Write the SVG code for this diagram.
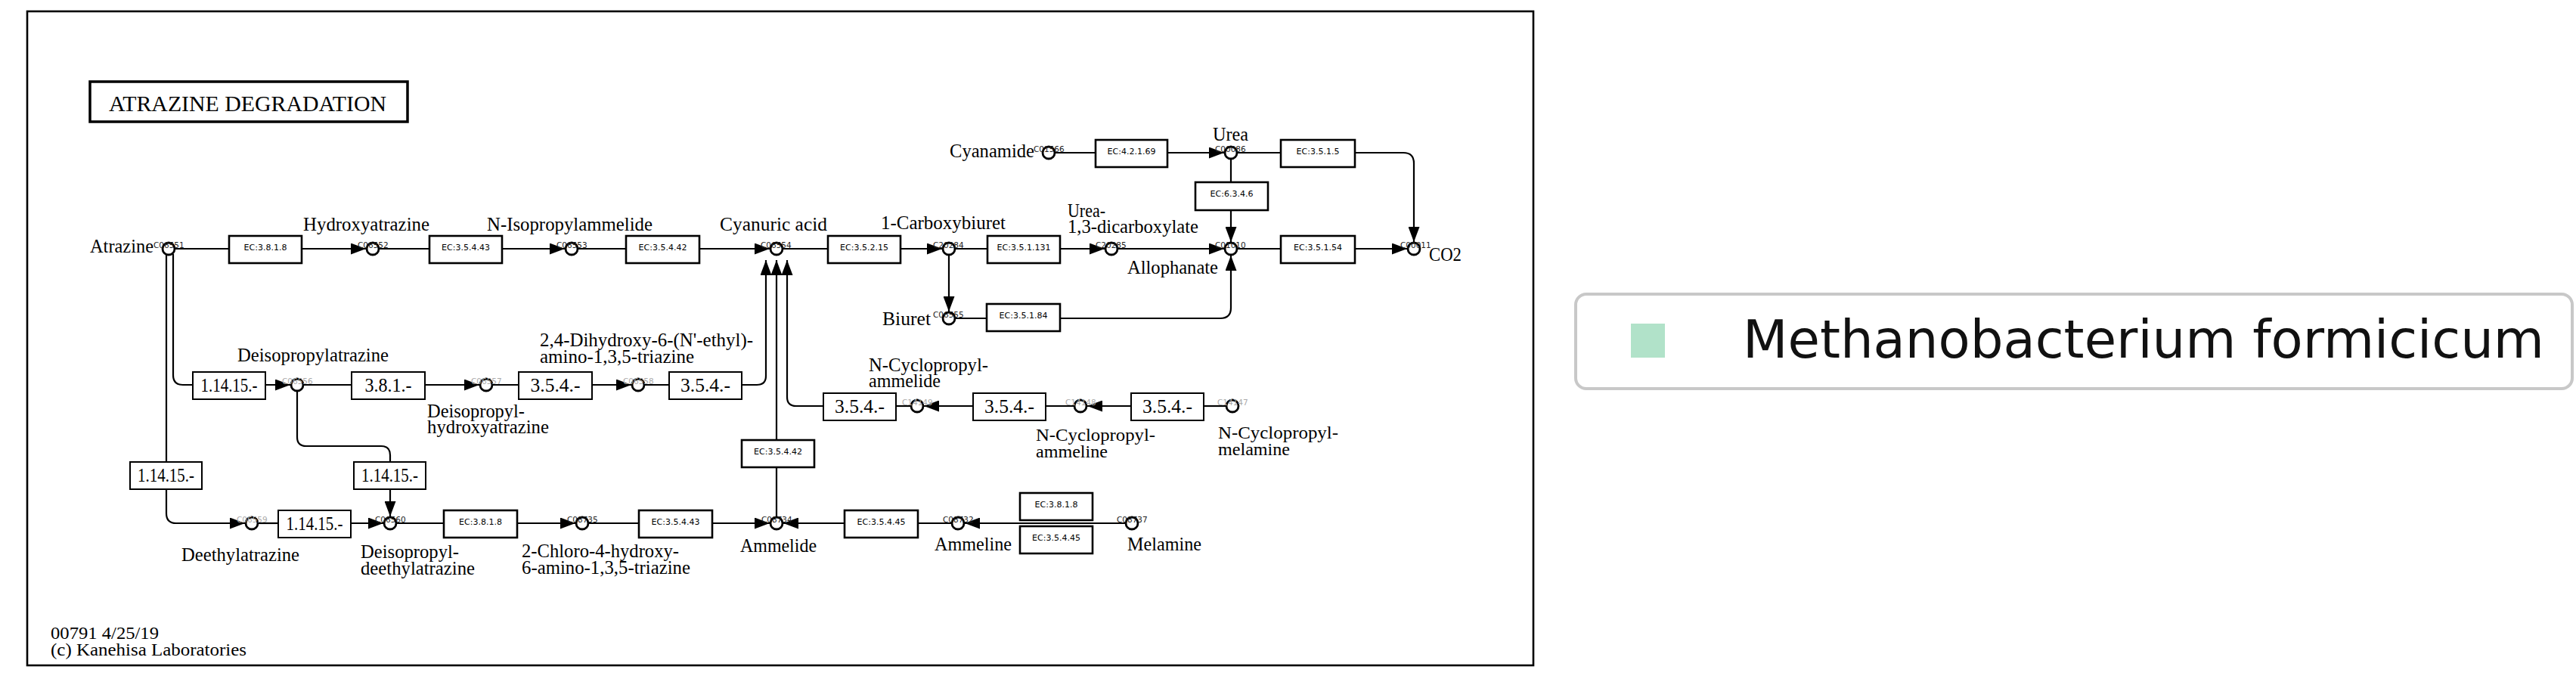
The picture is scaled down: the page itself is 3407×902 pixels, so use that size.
<svg xmlns="http://www.w3.org/2000/svg" width="3407" height="902" viewBox="0 0 3407 902">
<style>
.c{fill:none;stroke:#000;stroke-width:2.2}
.a{marker-end:url(#ah)}
.cp{fill:#fff;stroke:#000;stroke-width:2.8}
.ec{fill:#fff;stroke:#000;stroke-width:2.6}
.nb{fill:#fff;stroke:#000;stroke-width:2}
.et{font-family:"DejaVu Sans",sans-serif;font-size:11px;fill:#000;text-anchor:middle}
.nt{font-family:"Liberation Serif",serif;font-size:25px;fill:#000;text-anchor:middle}
.n{font-family:"Liberation Serif",serif;font-size:25px;fill:#000}
.n2{font-family:"Liberation Serif",serif;font-size:23px;fill:#000}
.id{font-family:"DejaVu Sans",sans-serif;font-size:10.5px;fill:#222}
.ig{font-family:"DejaVu Sans",sans-serif;font-size:10.5px;fill:#aaa}
</style>
<defs>
<marker id="ah" viewBox="0 0 20 15" refX="20" refY="7.5" markerWidth="20" markerHeight="15" markerUnits="userSpaceOnUse" orient="auto"><path d="M0,0 L20,7.5 L0,15 z" fill="#000"/></marker>
</defs>
<rect width="3407" height="902" fill="#fff"/>
<rect x="36" y="15" width="1992" height="865" fill="#fff" stroke="#000" stroke-width="2.6"/>
<g id="title">
<rect x="119" y="108" width="420" height="53" fill="#fff" stroke="#000" stroke-width="3.5"/>
<text x="144" y="147" font-family="Liberation Serif,serif" font-size="30" textLength="367" lengthAdjust="spacingAndGlyphs">ATRAZINE DEGRADATION</text>
</g>
<g id="connectors">
<path class="c" d="M231,329 H303"/>
<path class="c a" d="M399,329 H484"/>
<path class="c" d="M501,329 H568"/>
<path class="c a" d="M664,329 H747"/>
<path class="c" d="M764,329 H828"/>
<path class="c a" d="M925,329 H1018"/>
<path class="c" d="M1035,329 H1095"/>
<path class="c a" d="M1191,329 H1246"/>
<path class="c" d="M1263,329 H1306"/>
<path class="c a" d="M1402,329 H1461"/>
<path class="c a" d="M1478,329 H1619"/>
<path class="c" d="M1636,329 H1694"/>
<path class="c a" d="M1792,329 H1861"/>
<path class="c" d="M1395,202 H1449"/>
<path class="c a" d="M1544,202 H1619"/>
<path class="c" d="M1636,202 H1694"/>
<path class="c a" d="M1792,202 H1856 Q1870,202 1870,216 V320"/>
<path class="c" d="M1628,210 V241"/>
<path class="c a" d="M1628,278 V320"/>
<path class="c a" d="M1255,337 V412"/>
<path class="c" d="M1263,421 H1305"/>
<path class="c a" d="M1402,421 H1614 Q1628,421 1628,407 V338"/>
<path class="c" d="M229,336 V496 Q229,509 242,509 H255"/>
<path class="c" d="M220,336 V611"/>
<path class="c a" d="M220,647 V679 Q220,692 233,692 H324"/>
<path class="c a" d="M351,509 H384"/>
<path class="c" d="M401,509 H465"/>
<path class="c a" d="M562,509 H634"/>
<path class="c" d="M651,509 H686"/>
<path class="c a" d="M783,509 H835"/>
<path class="c" d="M852,509 H885"/>
<path class="c a" d="M981,509 H1001 Q1013,509 1013,497 V344"/>
<path class="c" d="M393,517 V578 Q393,590 405,590 H504 Q516,590 516,602 V611"/>
<path class="c a" d="M516,647 V683"/>
<path class="c a" d="M1089,537 H1053 Q1041,537 1041,525 V344"/>
<path class="c" d="M1185,537 H1205"/>
<path class="c a" d="M1287,537 H1222"/>
<path class="c" d="M1383,537 H1421"/>
<path class="c a" d="M1496,537 H1438"/>
<path class="c" d="M1592,537 H1622"/>
<path class="c" d="M1027,684 V618"/>
<path class="c a" d="M1027,582 V344"/>
<path class="c" d="M341,692 H368"/>
<path class="c a" d="M464,692 H507"/>
<path class="c" d="M524,692 H587"/>
<path class="c a" d="M684,692 H761"/>
<path class="c" d="M778,692 H845"/>
<path class="c a" d="M942,692 H1018"/>
<path class="c a" d="M1117,692 H1036"/>
<path class="c" d="M1259,692 H1214"/>
<path class="c a" d="M1489,692 H1276"/>
</g>
<g id="C06551"><circle class="cp" cx="223" cy="329" r="8"/><text class="id" x="203" y="328">C06551</text><text class="n" x="119" y="334" textLength="84" lengthAdjust="spacingAndGlyphs">Atrazine</text></g>
<g id="C06552"><circle class="cp" cx="493" cy="329" r="8"/><text class="id" x="473" y="328">C06552</text><text class="n" x="401" y="305" textLength="167" lengthAdjust="spacingAndGlyphs">Hydroxyatrazine</text></g>
<g id="C06553"><circle class="cp" cx="756" cy="329" r="8"/><text class="id" x="736" y="328">C06553</text><text class="n" x="644" y="305" textLength="219" lengthAdjust="spacingAndGlyphs">N-Isopropylammelide</text></g>
<g id="C06554"><circle class="cp" cx="1027" cy="329" r="8"/><text class="id" x="1006" y="328">C06554</text><text class="n" x="952" y="305" textLength="142" lengthAdjust="spacingAndGlyphs">Cyanuric acid</text></g>
<g id="C20284"><circle class="cp" cx="1255" cy="329" r="8"/><text class="id" x="1234" y="328">C20284</text><text class="n" x="1165" y="303" textLength="165" lengthAdjust="spacingAndGlyphs">1-Carboxybiuret</text></g>
<g id="C20285"><circle class="cp" cx="1470" cy="329" r="8"/><text class="id" x="1449" y="328">C20285</text><text class="n" x="1412" y="287" textLength="50" lengthAdjust="spacingAndGlyphs">Urea-</text><text class="n" x="1412" y="308" textLength="173" lengthAdjust="spacingAndGlyphs">1,3-dicarboxylate</text></g>
<g id="C01010"><circle class="cp" cx="1628" cy="329" r="8"/><text class="id" x="1607" y="328">C01010</text><text class="n" x="1491" y="362" textLength="120" lengthAdjust="spacingAndGlyphs">Allophanate</text></g>
<g id="C00011"><circle class="cp" cx="1870" cy="329" r="8"/><text class="id" x="1852" y="328">C00011</text><text class="n" x="1890" y="345" textLength="43" lengthAdjust="spacingAndGlyphs">CO2</text></g>
<g id="C01566"><circle class="cp" cx="1387" cy="202" r="8"/><text class="id" x="1367" y="201">C01566</text><text class="n" x="1256" y="208" textLength="112" lengthAdjust="spacingAndGlyphs">Cyanamide</text></g>
<g id="C00086"><circle class="cp" cx="1628" cy="202" r="8"/><text class="id" x="1607" y="201">C00086</text><text class="n" x="1604" y="186" textLength="47" lengthAdjust="spacingAndGlyphs">Urea</text></g>
<g id="C06555"><circle class="cp" cx="1255" cy="421" r="8"/><text class="id" x="1234" y="420">C06555</text><text class="n" x="1167" y="430" textLength="64" lengthAdjust="spacingAndGlyphs">Biuret</text></g>
<g id="C06556"><circle class="cp" cx="393" cy="509" r="8"/><text class="ig" x="373" y="508">C06556</text><text class="n" x="314" y="478" textLength="200" lengthAdjust="spacingAndGlyphs">Deisopropylatrazine</text></g>
<g id="C06557"><circle class="cp" cx="643" cy="509" r="8"/><text class="ig" x="623" y="508">C06557</text><text class="n" x="565" y="552" textLength="129" lengthAdjust="spacingAndGlyphs">Deisopropyl-</text><text class="n" x="565" y="573" textLength="161" lengthAdjust="spacingAndGlyphs">hydroxyatrazine</text></g>
<g id="C06558"><circle class="cp" cx="844" cy="509" r="8"/><text class="ig" x="824" y="508">C06558</text><text class="n" x="714" y="458" textLength="282" lengthAdjust="spacingAndGlyphs">2,4-Dihydroxy-6-(N'-ethyl)-</text><text class="n" x="714" y="480" textLength="204" lengthAdjust="spacingAndGlyphs">amino-1,3,5-triazine</text></g>
<g id="C14149"><circle class="cp" cx="1213" cy="537" r="8"/><text class="ig" x="1193" y="536">C14149</text><text class="n" x="1149" y="491" textLength="158" lengthAdjust="spacingAndGlyphs">N-Cyclopropyl-</text><text class="n" x="1149" y="512" textLength="95" lengthAdjust="spacingAndGlyphs">ammelide</text></g>
<g id="C14148"><circle class="cp" cx="1429" cy="537" r="8"/><text class="ig" x="1409" y="536">C14148</text><text class="n2" x="1370" y="583" textLength="158" lengthAdjust="spacingAndGlyphs">N-Cyclopropyl-</text><text class="n2" x="1370" y="605" textLength="95" lengthAdjust="spacingAndGlyphs">ammeline</text></g>
<g id="C14147"><circle class="cp" cx="1630" cy="537" r="8"/><text class="ig" x="1610" y="536">C14147</text><text class="n2" x="1611" y="580" textLength="159" lengthAdjust="spacingAndGlyphs">N-Cyclopropyl-</text><text class="n2" x="1611" y="602" textLength="95" lengthAdjust="spacingAndGlyphs">melamine</text></g>
<g id="C06559"><circle class="cp" cx="333" cy="692" r="8"/><text class="ig" x="313" y="691">C06559</text><text class="n" x="240" y="742" textLength="156" lengthAdjust="spacingAndGlyphs">Deethylatrazine</text></g>
<g id="C06560"><circle class="cp" cx="516" cy="692" r="8"/><text class="id" x="496" y="691">C06560</text><text class="n" x="477" y="738" textLength="130" lengthAdjust="spacingAndGlyphs">Deisopropyl-</text><text class="n" x="477" y="760" textLength="151" lengthAdjust="spacingAndGlyphs">deethylatrazine</text></g>
<g id="C08735"><circle class="cp" cx="770" cy="692" r="8"/><text class="id" x="750" y="691">C08735</text><text class="n" x="690" y="737" textLength="208" lengthAdjust="spacingAndGlyphs">2-Chloro-4-hydroxy-</text><text class="n" x="690" y="759" textLength="223" lengthAdjust="spacingAndGlyphs">6-amino-1,3,5-triazine</text></g>
<g id="C08734"><circle class="cp" cx="1027" cy="692" r="8"/><text class="id" x="1007" y="691">C08734</text><text class="n" x="979" y="730" textLength="101" lengthAdjust="spacingAndGlyphs">Ammelide</text></g>
<g id="C08732"><circle class="cp" cx="1267" cy="692" r="8"/><text class="id" x="1247" y="691">C08732</text><text class="n" x="1236" y="728" textLength="102" lengthAdjust="spacingAndGlyphs">Ammeline</text></g>
<g id="C08737"><circle class="cp" cx="1497" cy="692" r="8"/><text class="id" x="1477" y="691">C08737</text><text class="n" x="1491" y="728" textLength="98" lengthAdjust="spacingAndGlyphs">Melamine</text></g>
<g id="E1"><rect class="ec" x="303" y="312" width="96" height="36"/><text class="et" x="351" y="331">EC:3.8.1.8</text></g>
<g id="E2"><rect class="ec" x="568" y="312" width="96" height="36"/><text class="et" x="616" y="331">EC:3.5.4.43</text></g>
<g id="E3"><rect class="ec" x="828" y="312" width="97" height="36"/><text class="et" x="876.5" y="331">EC:3.5.4.42</text></g>
<g id="E4"><rect class="ec" x="1095" y="312" width="96" height="36"/><text class="et" x="1143" y="331">EC:3.5.2.15</text></g>
<g id="E5"><rect class="ec" x="1306" y="312" width="96" height="36"/><text class="et" x="1354" y="331">EC:3.5.1.131</text></g>
<g id="E6"><rect class="ec" x="1694" y="312" width="98" height="36"/><text class="et" x="1743" y="331">EC:3.5.1.54</text></g>
<g id="E7"><rect class="ec" x="1449" y="185" width="95" height="36"/><text class="et" x="1496.5" y="204">EC:4.2.1.69</text></g>
<g id="E8"><rect class="ec" x="1694" y="185" width="98" height="36"/><text class="et" x="1743" y="204">EC:3.5.1.5</text></g>
<g id="E9"><rect class="ec" x="1581" y="241" width="96" height="37"/><text class="et" x="1629" y="260">EC:6.3.4.6</text></g>
<g id="E10"><rect class="ec" x="1305" y="402" width="97" height="36"/><text class="et" x="1353.5" y="421">EC:3.5.1.84</text></g>
<g id="E11"><rect class="ec" x="981" y="582" width="96" height="36"/><text class="et" x="1029" y="601">EC:3.5.4.42</text></g>
<g id="E12"><rect class="ec" x="587" y="675" width="97" height="36"/><text class="et" x="635.5" y="694">EC:3.8.1.8</text></g>
<g id="E13"><rect class="ec" x="845" y="675" width="97" height="36"/><text class="et" x="893.5" y="694">EC:3.5.4.43</text></g>
<g id="E14"><rect class="ec" x="1117" y="675" width="97" height="36"/><text class="et" x="1165.5" y="694">EC:3.5.4.45</text></g>
<g id="E15"><rect class="ec" x="1349" y="652" width="96" height="36"/><text class="et" x="1397" y="671">EC:3.8.1.8</text></g>
<g id="E16"><rect class="ec" x="1349" y="696" width="96" height="36"/><text class="et" x="1397" y="715">EC:3.5.4.45</text></g>
<g id="N1"><rect class="nb" x="255" y="492" width="96" height="36"/><text class="nt" x="303" y="518" textLength="75" lengthAdjust="spacingAndGlyphs">1.14.15.-</text></g>
<g id="N2"><rect class="nb" x="465" y="492" width="97" height="36"/><text class="nt" x="513.5" y="518" textLength="62" lengthAdjust="spacingAndGlyphs">3.8.1.-</text></g>
<g id="N3"><rect class="nb" x="686" y="492" width="97" height="36"/><text class="nt" x="734.5" y="518" textLength="66" lengthAdjust="spacingAndGlyphs">3.5.4.-</text></g>
<g id="N4"><rect class="nb" x="885" y="492" width="96" height="36"/><text class="nt" x="933" y="518" textLength="66" lengthAdjust="spacingAndGlyphs">3.5.4.-</text></g>
<g id="N5"><rect class="nb" x="172" y="611" width="95" height="36"/><text class="nt" x="219.5" y="637" textLength="75" lengthAdjust="spacingAndGlyphs">1.14.15.-</text></g>
<g id="N6"><rect class="nb" x="468" y="611" width="95" height="36"/><text class="nt" x="515.5" y="637" textLength="75" lengthAdjust="spacingAndGlyphs">1.14.15.-</text></g>
<g id="N7"><rect class="nb" x="368" y="675" width="96" height="36"/><text class="nt" x="416" y="701" textLength="75" lengthAdjust="spacingAndGlyphs">1.14.15.-</text></g>
<g id="N8"><rect class="nb" x="1089" y="520" width="96" height="36"/><text class="nt" x="1137" y="546" textLength="66" lengthAdjust="spacingAndGlyphs">3.5.4.-</text></g>
<g id="N9"><rect class="nb" x="1287" y="520" width="96" height="36"/><text class="nt" x="1335" y="546" textLength="66" lengthAdjust="spacingAndGlyphs">3.5.4.-</text></g>
<g id="N10"><rect class="nb" x="1496" y="520" width="96" height="36"/><text class="nt" x="1544" y="546" textLength="66" lengthAdjust="spacingAndGlyphs">3.5.4.-</text></g>
<g id="footer">
<text x="67" y="845" font-family="Liberation Serif,serif" font-size="24" textLength="143" lengthAdjust="spacingAndGlyphs">00791 4/25/19</text>
<text x="67" y="867" font-family="Liberation Serif,serif" font-size="24" textLength="259" lengthAdjust="spacingAndGlyphs">(c) Kanehisa Laboratories</text>
</g>
<g id="legend">
<rect x="2084" y="389" width="1318" height="125" rx="14" fill="#fff" stroke="#c8c8c8" stroke-width="4"/>
<rect x="2157" y="428" width="45" height="45" fill="#b1e2c9"/>
<text x="2305" y="473" font-family="DejaVu Sans,sans-serif" font-size="69" fill="#111" textLength="1060" lengthAdjust="spacingAndGlyphs">Methanobacterium formicicum</text>
</g>
</svg>
